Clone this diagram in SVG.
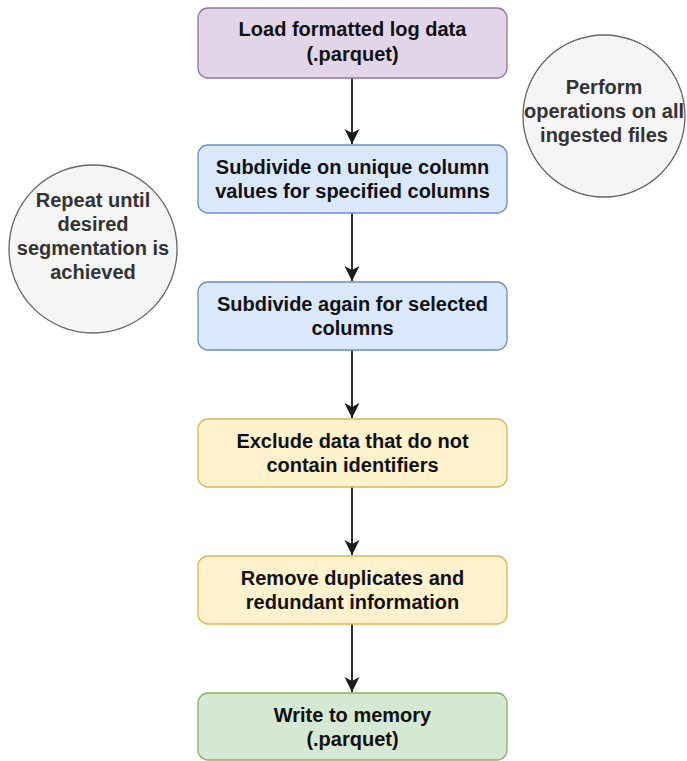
<svg xmlns="http://www.w3.org/2000/svg" width="687" height="761" viewBox="0 0 687 761">
  <style>
    .box { stroke-width: 1.3; }
    .purple { fill: #e1d5e7; stroke: #9673a6; }
    .blue { fill: #dae8fc; stroke: #6c8ebf; }
    .yellow { fill: #fff2cc; stroke: #d6b656; }
    .green { fill: #d5e8d4; stroke: #82b366; }
    .note { fill: #f5f5f5; stroke: #666666; stroke-width: 1.3; }
    .lbl { font-family: "Liberation Sans", Arial, sans-serif; font-weight: bold; font-size: 20px; fill: #111111; text-anchor: middle; }
    .nlbl { font-family: "Liberation Sans", Arial, sans-serif; font-weight: bold; font-size: 20px; fill: #333333; text-anchor: middle; }
    .edge { stroke: #1a1a1a; stroke-width: 1.8; fill: none; }
  </style>
  <defs>
    <marker id="arrow" markerUnits="userSpaceOnUse" markerWidth="16" markerHeight="16" viewBox="0 0 16 16" refX="15" refY="8" orient="auto">
      <path d="M0,0.5 L15,8 L0,15.5 L4,8 Z" fill="#1a1a1a"/>
    </marker>
  </defs>

  <rect width="687" height="761" fill="#ffffff"/>

  <g id="connectors">
    <line class="edge" x1="352" y1="78" x2="352" y2="144" marker-end="url(#arrow)"/>
    <line class="edge" x1="352" y1="213" x2="352" y2="281" marker-end="url(#arrow)"/>
    <line class="edge" x1="352" y1="350" x2="352" y2="418" marker-end="url(#arrow)"/>
    <line class="edge" x1="352" y1="487" x2="352" y2="555" marker-end="url(#arrow)"/>
    <line class="edge" x1="352" y1="624" x2="352" y2="692" marker-end="url(#arrow)"/>
  </g>

  <g id="load">
    <rect class="box purple" x="198" y="8" width="309" height="70" rx="10"/>
    <text class="lbl" x="352.5" y="36">Load formatted log data</text>
    <text class="lbl" x="352.5" y="61">(.parquet)</text>
  </g>

  <g id="subdivide">
    <rect class="box blue" x="198" y="145" width="309" height="68" rx="10"/>
    <text class="lbl" x="352.5" y="174">Subdivide on unique column</text>
    <text class="lbl" x="352.5" y="198">values for specified columns</text>
  </g>

  <g id="subdivide-again">
    <rect class="box blue" x="198" y="282" width="309" height="68" rx="10"/>
    <text class="lbl" x="352.5" y="311">Subdivide again for selected</text>
    <text class="lbl" x="352.5" y="335">columns</text>
  </g>

  <g id="exclude">
    <rect class="box yellow" x="198" y="419" width="309" height="68" rx="10"/>
    <text class="lbl" x="352.5" y="448">Exclude data that do not</text>
    <text class="lbl" x="352.5" y="472">contain identifiers</text>
  </g>

  <g id="dedupe">
    <rect class="box yellow" x="198" y="556" width="309" height="68" rx="10"/>
    <text class="lbl" x="352.5" y="585">Remove duplicates and</text>
    <text class="lbl" x="352.5" y="609">redundant information</text>
  </g>

  <g id="write">
    <rect class="box green" x="198" y="693" width="309" height="67" rx="10"/>
    <text class="lbl" x="352.5" y="722">Write to memory</text>
    <text class="lbl" x="352.5" y="746">(.parquet)</text>
  </g>

  <g id="repeat-note">
    <circle class="note" cx="93" cy="249" r="84"/>
    <text class="nlbl" x="93" y="207">Repeat until</text>
    <text class="nlbl" x="93" y="231">desired</text>
    <text class="nlbl" x="93" y="255">segmentation is</text>
    <text class="nlbl" x="93" y="279">achieved</text>
  </g>

  <g id="all-files-note">
    <circle class="note" cx="604" cy="116" r="81"/>
    <text class="nlbl" x="604" y="94">Perform</text>
    <text class="nlbl" x="604" y="118">operations on all</text>
    <text class="nlbl" x="604" y="142">ingested files</text>
  </g>
</svg>
